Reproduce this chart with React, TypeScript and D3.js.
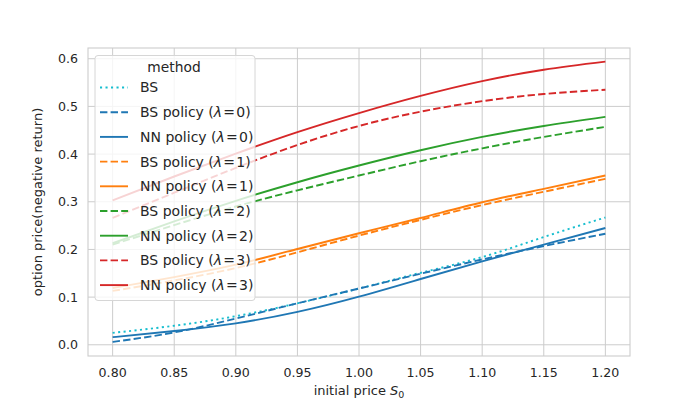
import React from 'react';
import * as d3 from 'd3';

// initial price grid
const s0 = [0.80, 0.85, 0.90, 0.95, 1.00, 1.05, 1.10, 1.15, 1.20];

const bs = [0.025, 0.040, 0.060, 0.087, 0.118, 0.151, 0.184, 0.226, 0.267];
const bsPol0 = [0.006, 0.026, 0.055, 0.087, 0.118, 0.149, 0.179, 0.207, 0.233];
const nnPol0 = [0.016, 0.029, 0.045, 0.069, 0.101, 0.138, 0.175, 0.210, 0.245];
const bsPol1 = [0.113, 0.135, 0.161, 0.194, 0.229, 0.262, 0.293, 0.321, 0.348];
const nnPol1 = [0.119, 0.142, 0.168, 0.201, 0.234, 0.266, 0.299, 0.327, 0.355];
const bsPol2 = [0.210, 0.251, 0.290, 0.324, 0.355, 0.385, 0.412, 0.436, 0.457];
const nnPol2 = [0.213, 0.259, 0.302, 0.341, 0.376, 0.408, 0.436, 0.459, 0.478];
const bsPol3 = [0.266, 0.319, 0.371, 0.419, 0.459, 0.489, 0.511, 0.526, 0.535];
const nnPol3 = [0.303, 0.353, 0.401, 0.446, 0.486, 0.522, 0.553, 0.577, 0.594];

const xTicks = [0.80, 0.85, 0.90, 0.95, 1.00, 1.05, 1.10, 1.15, 1.20];
const yTicks = [0.0, 0.1, 0.2, 0.3, 0.4, 0.5, 0.6];

interface Series {
  name: string;
  lam: string | null;
  values: number[];
  color: string;
  dash: string | null;
}

const series: Series[] = [
  { name: 'BS', lam: null, values: bs, color: '#17becf', dash: '2.1,3.4' },
  { name: 'BS policy', lam: '0', values: bsPol0, color: '#1f77b4', dash: '7.4,3.2' },
  { name: 'NN policy', lam: '0', values: nnPol0, color: '#1f77b4', dash: null },
  { name: 'BS policy', lam: '1', values: bsPol1, color: '#ff7f0e', dash: '7.4,3.2' },
  { name: 'NN policy', lam: '1', values: nnPol1, color: '#ff7f0e', dash: null },
  { name: 'BS policy', lam: '2', values: bsPol2, color: '#2ca02c', dash: '7.4,3.2' },
  { name: 'NN policy', lam: '2', values: nnPol2, color: '#2ca02c', dash: null },
  { name: 'BS policy', lam: '3', values: bsPol3, color: '#d62728', dash: '7.4,3.2' },
  { name: 'NN policy', lam: '3', values: nnPol3, color: '#d62728', dash: null },
];

const W = 700;
const H = 400;
const margin = { top: 48, right: 70, bottom: 44, left: 88 };
const font = 'DejaVu Sans, sans-serif';
const textColor = '#262626';
const gridColor = '#cccccc';

export default function App() {
  const x = d3.scaleLinear().domain([0.78, 1.22]).range([margin.left, W - margin.right]);
  const y = d3.scaleLinear().domain([-0.0235, 0.6225]).range([H - margin.bottom, margin.top]);

  const line = d3
    .line<number>()
    .x((_, i) => x(s0[i]))
    .y((d) => y(d))
    .curve(d3.curveNatural);

  // legend box
  const lg = { x: 95, y: 55.5, w: 160, h: 245, row: 24.7 };

  return (
    <svg
      width={W}
      height={H}
      style={{ position: 'absolute', left: 0, top: 0, background: '#fff' }}
      fontFamily={font}
    >
      {/* grid */}
      {xTicks.map((t) => (
        <line key={'gx' + t} x1={x(t)} x2={x(t)} y1={margin.top} y2={H - margin.bottom} stroke={gridColor} strokeWidth={1} />
      ))}
      {yTicks.map((t) => (
        <line key={'gy' + t} x1={margin.left} x2={W - margin.right} y1={y(t)} y2={y(t)} stroke={gridColor} strokeWidth={1} />
      ))}

      {/* lines */}
      {series.map((s, i) => (
        <path
          key={'s' + i}
          d={line(s.values) || ''}
          fill="none"
          stroke={s.color}
          strokeWidth={1.9}
          strokeDasharray={s.dash || undefined}
        />
      ))}

      {/* frame */}
      <rect
        x={margin.left}
        y={margin.top}
        width={W - margin.left - margin.right}
        height={H - margin.top - margin.bottom}
        fill="none"
        stroke={gridColor}
        strokeWidth={1.1}
      />

      {/* tick labels */}
      {xTicks.map((t) => (
        <text key={'tx' + t} x={x(t)} y={H - margin.bottom + 20.5} textAnchor="middle" fontSize={12.6} fill={textColor}>
          {t.toFixed(2)}
        </text>
      ))}
      {yTicks.map((t) => (
        <text key={'ty' + t} x={margin.left - 10} y={y(t) + 4.5} textAnchor="end" fontSize={12.6} fill={textColor}>
          {t.toFixed(1)}
        </text>
      ))}

      {/* axis labels */}
      <text x={x(1.0)} y={H - 5} textAnchor="middle" fontSize={13} fill={textColor}>
        initial price <tspan fontStyle="italic">S</tspan>
        <tspan fontSize={9.5} dy={3}>0</tspan>
      </text>
      <text
        transform={`translate(42,${(margin.top + H - margin.bottom) / 2}) rotate(-90)`}
        textAnchor="middle"
        fontSize={13}
        fill={textColor}
      >
        option price(negative return)
      </text>

      {/* legend */}
      <rect x={lg.x} y={lg.y} width={lg.w} height={lg.h} rx={3} fill="#fff" fillOpacity={0.8} stroke="#d6d6d6" strokeWidth={1} />
      <text x={174} y={lg.y + 16.5} textAnchor="middle" fontSize={13.8} fill={textColor}>
        method
      </text>
      {series.map((s, i) => {
        const ly = lg.y + 32 + i * lg.row;
        return (
          <g key={'l' + i}>
            <line x1={100} x2={128} y1={ly} y2={ly} stroke={s.color} strokeWidth={1.9} strokeDasharray={s.dash || undefined} />
            <text x={140} y={ly + 4.9} fontSize={14} fill={textColor}>
              {s.lam === null ? (
                s.name
              ) : (
                <>
                  {s.name} (<tspan fontStyle="italic">λ</tspan>
                  <tspan dx={1.2}>=</tspan>
                  <tspan dx={1.2}>{s.lam})</tspan>
                </>
              )}
            </text>
          </g>
        );
      })}
    </svg>
  );
}
